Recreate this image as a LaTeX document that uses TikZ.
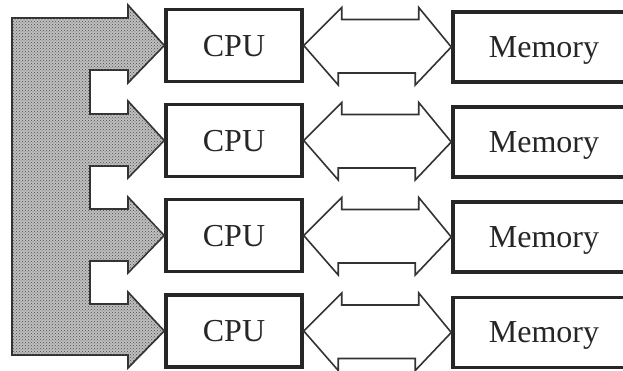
\documentclass[tikz,border=0pt]{standalone}
\usepackage{fontspec}
\setmainfont{Liberation Serif}
\usetikzlibrary{patterns}
\begin{document}
\begin{tikzpicture}[x=1pt,y=-1pt,
  box/.style={draw=black!85,line width=3.5pt,minimum height=72pt,inner sep=0pt,
    text depth=0pt,font=\fontsize{32}{36}\selectfont,text=black!85,fill=white},
  bus/.style={draw=black!80,line width=1.6pt,fill=white,line join=miter},
  ctrl/.style={draw=black!80,line width=1.6pt,fill=black!25,
    postaction={pattern=crosshatch dots,pattern color=black!70}}]
\clip (0,0) rectangle (623,371);
\foreach \i/\c in {1/45.5,2/140.5,3/235.5,4/331}{
  \node[box,minimum width=136pt] (cpu\i) at (234,\c) {CPU};
  \node[box,minimum width=182pt,minimum height=70pt] (mem\i) at (544,\c+1.5) {Memory};
}
\foreach \i in {1,...,4}{
  \draw[bus] (cpu\i.east) -- ++(38,-38) -- ++(0,12) -- ++(77,0) -- ++(0,-12)
    -- (mem\i.west) -- ++(-36,38) -- ++(0,-12) -- ++(-77,0) -- ++(0,12) -- cycle;
}
\draw[ctrl] (12,18) -- (128,18) -- (128,5) -- (cpu1.west) -- (128,83) -- (128,70)
  -- (90,70) -- (90,114) -- (128,114) -- (128,101) -- (cpu2.west) -- (128,178)
  -- (128,166) -- (90,166) -- (90,209) -- (128,209) -- (128,197) -- (cpu3.west)
  -- (128,273) -- (128,261) -- (90,261) -- (90,304) -- (128,304) -- (128,292)
  -- (cpu4.west) -- (128,368) -- (128,355) -- (12,355) -- cycle;
\end{tikzpicture}
\end{document}
